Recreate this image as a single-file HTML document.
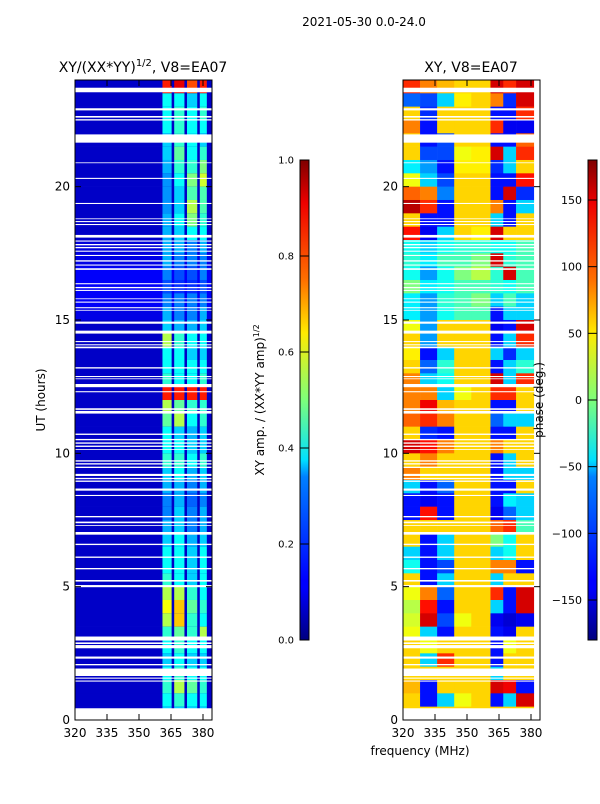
<!DOCTYPE html>
<html><head><meta charset="utf-8"><style>
body{margin:0;background:#fff;width:600px;height:800px;overflow:hidden;font-family:"DejaVu Sans","Liberation Sans",sans-serif}
svg text{font-family:"DejaVu Sans","Liberation Sans",sans-serif}
</style></head><body>
<svg id="fig" width="600" height="800" viewBox="0 0 600 800">
<defs>
<linearGradient id="jetv" x1="0" y1="1" x2="0" y2="0">
<stop offset="0" stop-color="#00007f"/><stop offset="0.11" stop-color="#0000ff"/><stop offset="0.125" stop-color="#0000ff"/>
<stop offset="0.34" stop-color="#0080ff"/><stop offset="0.375" stop-color="#00e0ff"/><stop offset="0.5" stop-color="#7dff7a"/>
<stop offset="0.64" stop-color="#ffea00"/><stop offset="0.75" stop-color="#ff7000"/><stop offset="0.91" stop-color="#ee0000"/>
<stop offset="1" stop-color="#7f0000"/></linearGradient>
</defs>
<text x="364" y="26" font-size="12" text-anchor="middle">2021-05-30 0.0-24.0</text>
<text x="143" y="72" font-size="14" text-anchor="middle">XY/(XX*YY)<tspan font-size="10" dy="-6">1/2</tspan><tspan dy="6">, V8=EA07</tspan></text>
<text x="471" y="72" font-size="14" text-anchor="middle">XY, V8=EA07</text>
<g id="ampImg"></g>
<g id="phImg"></g>
<g id="flags"></g>
<g id="axes"></g>
<rect x="300" y="160" width="9" height="480" fill="url(#jetv)" stroke="#000" stroke-width="1"/>
<rect x="588" y="160" width="9" height="480" fill="url(#jetv)" stroke="#000" stroke-width="1"/>
<g id="cbticks"></g>
<text transform="translate(45,400) rotate(-90)" font-size="12" text-anchor="middle">UT (hours)</text>
<text transform="translate(264,400) rotate(-90)" font-size="12" text-anchor="middle">XY amp. / (XX*YY amp)<tspan font-size="8" dy="-5">1/2</tspan></text>
<text transform="translate(543,400) rotate(-90)" font-size="12" text-anchor="middle">phase (deg.)</text>
<text x="420" y="755" font-size="12" text-anchor="middle">frequency (MHz)</text>
</svg>
<script>
// rows top-to-bottom, each 0.5 h, starting at 24 h
const ampBands=[[0.85,0.9,0.8,0.85],[0.38,0.38,0.33,0.38],[0.38,0.42,0.38,0.42],[0.38,0.42,0.38,0.38],[0.33,0.42,0.38,0.33],[0.33,0.47,0.38,0.42],[0.3,0.42,0.42,0.5],[0.27,0.38,0.5,0.58],[0.27,0.33,0.45,0.45],[0.27,0.33,0.55,0.45],[0.3,0.38,0.5,0.42],[0.3,0.33,0.38,0.38],[0.3,0.3,0.25,0.3],[0.3,0.25,0.25,0.25],[0.25,0.2,0.2,0.25],[0.2,0.17,0.17,0.2],[0.25,0.25,0.25,0.25],[0.3,0.25,0.25,0.3],[0.33,0.3,0.3,0.33],[0.55,0.42,0.38,0.38],[0.38,0.38,0.33,0.33],[0.38,0.38,0.38,0.38],[0.42,0.38,0.38,0.42],[0.85,0.85,0.85,0.85],[0.55,0.47,0.42,0.42],[0.47,0.55,0.38,0.42],[0.38,0.33,0.3,0.33],[0.38,0.38,0.33,0.33],[0.42,0.42,0.38,0.42],[0.33,0.38,0.3,0.33],[0.3,0.3,0.25,0.3],[0.25,0.3,0.22,0.25],[0.25,0.33,0.25,0.3],[0.3,0.33,0.25,0.3],[0.33,0.38,0.3,0.33],[0.38,0.38,0.33,0.38],[0.38,0.38,0.33,0.38],[0.42,0.38,0.33,0.38],[0.55,0.55,0.42,0.38],[0.62,0.68,0.47,0.42],[0.55,0.68,0.42,0.38],[0.42,0.47,0.42,0.55],[0.38,0.42,0.38,0.38],[0.33,0.38,0.33,0.33],[0.38,0.42,0.38,0.38],[0.42,0.55,0.47,0.42],[0.38,0.42,0.38,0.38],[0.33,0.33,0.33,0.33]];
const ampBg=[0.07,0.07,0.07,0.07,0.07,0.07,0.07,0.07,0.07,0.07,0.07,0.07,0.09,0.1,0.12,0.12,0.12,0.1,0.07,0.07,0.07,0.07,0.07,0.07,0.07,0.07,0.07,0.07,0.07,0.07,0.07,0.07,0.07,0.07,0.07,0.07,0.07,0.07,0.07,0.07,0.07,0.07,0.07,0.07,0.07,0.07,0.07,0.07];
const bandEdges=[[361,365.3],[366.5,371.3],[372.5,377.3],[378.5,381.8]];
const phaseCols=[[320,328],[328,336],[336,344],[344,352],[352,361],[361,367],[367,373],[373,381.3]];
const phase=[[120,90,70,60,60,150,120,150],[-100,-110,-60,50,60,90,-120,150],[60,-120,60,60,60,-130,-130,120],[90,-130,60,60,60,120,-140,-140],[60,-130,-110,60,60,-130,-130,100],[60,-110,-110,40,50,150,-60,120],[-50,-80,-130,50,50,-120,-60,60],[40,-60,-110,60,60,-130,-130,130],[100,90,-90,60,60,-130,150,-120],[160,120,-130,60,60,90,-130,-60],[60,-130,-130,60,60,-60,-130,60],[130,-140,-60,60,50,150,60,60],[-40,-60,-40,-30,-30,-40,-40,-20],[-30,-50,-20,-20,0,150,-30,-20],[-40,-80,-40,0,20,-30,150,-20],[0,-50,-40,-20,-20,-30,-40,-20],[-50,-80,-30,-20,0,-60,-20,-60],[-50,-80,-40,-20,-20,-130,-60,-60],[40,-80,60,60,60,-140,-130,150],[60,-80,60,60,60,-130,-60,120],[50,-130,-60,60,60,-60,-120,-60],[60,-100,-30,60,60,-130,-60,-30],[90,-60,-40,60,60,150,-60,120],[90,90,-60,40,60,120,120,60],[90,140,70,60,60,-130,-130,60],[100,120,90,60,60,-100,-60,-60],[60,-120,-130,60,60,-130,-130,60],[150,130,90,60,60,90,60,60],[60,90,60,60,60,-130,-60,60],[90,60,60,60,60,-130,-60,-60],[-60,-130,-100,60,60,-130,-130,60],[-130,-140,-130,60,60,-130,-50,-60],[-130,130,-130,60,60,-140,-100,-60],[60,60,60,60,60,100,120,-20],[60,-130,-60,60,60,0,-40,60],[-60,-130,-60,60,60,-60,-40,60],[-40,-130,-110,60,60,90,90,-130],[60,-130,-60,60,60,-60,60,60],[40,90,-100,60,60,120,-130,150],[20,130,-130,60,60,-60,-130,150],[30,150,-110,40,60,-140,-150,-140],[40,-60,-130,60,60,-130,-140,60],[60,40,60,60,60,-130,40,60],[60,-60,120,60,60,-130,60,60],[60,60,60,60,60,-60,60,60],[70,-130,60,60,60,150,140,-130],[60,-130,-60,40,60,-130,-60,150],[60,60,60,60,60,60,60,60]];
const flagged=[[23.54,23.71],[22.86,22.94],[22.59,22.65],[22.48,22.53],[21.65,21.96],[20.88,20.91],[20.29,20.33],[19.35,19.39],[18.78,18.81],[18.67,18.71],[18.56,18.6],[18.09,18.19],[17.94,17.98],[17.8,17.85],[17.69,17.74],[17.56,17.6],[17.4,17.44],[17.19,17.24],[17.04,17.08],[16.88,16.94],[16.34,16.38],[16.19,16.24],[16.09,16.13],[15.78,15.81],[15.65,15.69],[15.44,15.48],[15.35,15.38],[14.86,14.94],[14.49,14.6],[14.17,14.21],[14.05,14.09],[13.94,14.0],[13.18,13.23],[12.86,12.9],[12.78,12.81],[12.48,12.6],[12.29,12.33],[11.63,11.69],[11.49,11.59],[10.69,10.74],[10.49,10.54],[10.36,10.41],[10.24,10.29],[10.13,10.16],[9.69,9.74],[9.58,9.63],[9.45,9.5],[9.15,9.23],[9.03,9.08],[8.93,8.98],[8.6,8.68],[8.4,8.44],[7.6,7.65],[7.38,7.44],[7.28,7.31],[6.95,7.05],[6.56,6.61],[6.08,6.13],[5.65,5.7],[5.19,5.25],[4.98,5.06],[2.98,3.13],[2.85,2.91],[2.69,2.81],[2.3,2.38],[2.05,2.1],[1.65,1.93],[1.55,1.59],[1.44,1.48],[0,0.44]];
const xTicks=[320,335,350,365,380];
const yTicks=[0,5,10,15,20];
const ampCbTicks=["0.0","0.2","0.4","0.6","0.8","1.0"];
const phCbTicks=[-150,-100,-50,0,50,100,150];

const NS="http://www.w3.org/2000/svg";
const PX=2.1333;
function xL(f){return 75+(f-320)*PX;}
function xR(f){return 403+(f-320)*PX;}
function yH(h){return 720-h*26.667;}
function jet(v){v=Math.max(0,Math.min(1,v));
 const c=(x)=>Math.max(0,Math.min(1,x));
 const r=c(1.5-Math.abs(4*v-3)), g=c(1.5-Math.abs(4*v-2)), b=c(1.5-Math.abs(4*v-1));
 return `rgb(${Math.round(r*255)},${Math.round(g*255)},${Math.round(b*255)})`;}
function rect(g,x,y,w,h,fill){const r=document.createElementNS(NS,'rect');
 r.setAttribute('x',x);r.setAttribute('y',y);r.setAttribute('width',w);r.setAttribute('height',h);r.setAttribute('fill',fill);
 g.appendChild(r);return r;}
const amp=document.getElementById('ampImg'),ph=document.getElementById('phImg'),fl=document.getElementById('flags');
ampBands.forEach((row,i)=>{
 const hTop=24-i*0.5,hBot=hTop-0.5,y0=yH(hTop),h=yH(hBot)-y0+0.3;
 const bg=rect(amp,xL(320),y0,xL(384.2)-xL(320),h,jet(ampBg[i]));
 
 
 row.forEach((v,j)=>{const e=bandEdges[j];
  const r=rect(amp,xL(e[0]),y0,xL(e[1])-xL(e[0]),h,jet(v));
  
  });
});
phase.forEach((row,i)=>{
 const hTop=24-i*0.5,hBot=hTop-0.5,y0=yH(hTop),h=yH(hBot)-y0+0.3;
 row.forEach((v,j)=>{const c=phaseCols[j];
  const r=rect(ph,xR(c[0]),y0,xR(c[1])-xR(c[0])+0.3,h,jet((v+180)/360));
  
  });
});
flagged.forEach(f=>{
 [[75,137],[403,137]].forEach(p=>{
  const r=rect(fl,p[0],yH(f[1]),p[1],yH(f[0])-yH(f[1]),'#fff');
  
  });
});
const ax=document.getElementById('axes');
const cbt=document.getElementById('cbticks');
function line(g,x1,y1,x2,y2){const l=document.createElementNS(NS,'line');
 l.setAttribute('x1',x1);l.setAttribute('y1',y1);l.setAttribute('x2',x2);l.setAttribute('y2',y2);
 l.setAttribute('stroke','#000');l.setAttribute('stroke-width','1');g.appendChild(l);return l;}
function text(g,x,y,s,anchor,size){const t=document.createElementNS(NS,'text');
 t.setAttribute('x',x);t.setAttribute('y',y);t.setAttribute('font-size',size||12);t.setAttribute('text-anchor',anchor);
 t.textContent=s;g.appendChild(t);return t;}
[[75,xL],[403,xR]].forEach(([x0,xf],k)=>{
 const fr=rect(ax,x0,80,137,640,'none');fr.setAttribute('stroke','#000');
 
 
 xTicks.forEach(f=>{const x=xf(f);line(ax,x,720,x,714);line(ax,x,80,x,86);
  const t=text(ax,x,737,String(f),'middle',12);
  
  });
 yTicks.forEach(h=>{const y=yH(h);line(ax,x0,y,x0+6,y);line(ax,x0+137,y,x0+131,y);
  const t=text(ax,x0-5,y+4,String(h),'end',12);
  
  });
});
ampCbTicks.forEach((s,i)=>{const y=640-i*96;line(cbt,300,y,309,y);
 const t=text(cbt,294,y+3.5,s,'end',10);
 
 });
phCbTicks.forEach(v=>{const y=400-v*(480/360);line(cbt,588,y,597,y);
 const t=text(cbt,582,y+4,String(v).replace('-','\u2212'),'end',11);
 
 });
</script>
</body></html>
